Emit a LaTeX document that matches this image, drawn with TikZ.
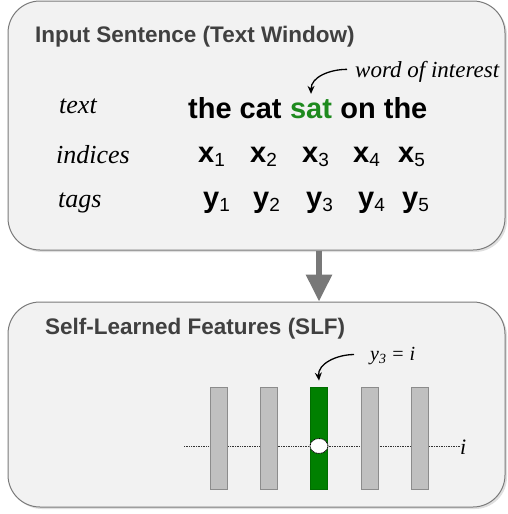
\documentclass[tikz,border=0pt]{standalone}
\usepackage{fontspec}
\setmainfont{Liberation Serif}
\setsansfont{Liberation Sans}
\usetikzlibrary{positioning,shapes.geometric,arrows.meta,shadows}
\definecolor{panelfill}{HTML}{F2F2F2}
\definecolor{paneldraw}{HTML}{7A7A7A}
\definecolor{headgray}{HTML}{404040}
\definecolor{wordgreen}{HTML}{1E8A1E}
\definecolor{bargreen}{HTML}{008000}
\definecolor{bargray}{HTML}{C0C0C0}
\newcommand{\vsub}[2]{{\bfseries #1}\raisebox{-4pt}{\fontsize{19}{19}\selectfont\mdseries #2}}
\tikzstyle{panel} = [draw=paneldraw,fill=panelfill,line width=1pt,rounded corners=32pt,
                     drop shadow={shadow xshift=2pt,shadow yshift=-2pt,opacity=0.25}]
\tikzstyle{head} = [anchor=base west,inner sep=0,text=headgray,
                    font=\fontsize{22.5}{22.5}\selectfont\sffamily\bfseries]
\tikzstyle{word} = [inner sep=0,font=\fontsize{29}{29}\selectfont\sffamily\bfseries]
\tikzstyle{note} = [anchor=base west,inner sep=0,font=\fontsize{23}{23}\selectfont\itshape]
\tikzstyle{bar} = [draw=black!45,fill=bargray,line width=0.8pt,minimum width=17pt,
                   minimum height=102pt,inner sep=0]

\begin{document}
\begin{tikzpicture}[
      x=1pt,y=-1pt,
      rowlab/.style={note,font=\fontsize{26}{26}\selectfont\itshape},
      curly/.style={-{Stealth[length=8pt,width=7pt]},line width=1.3pt},
      flow/.style={draw=black!53,line width=6pt,-{Triangle[width=25pt,length=27pt]}},
      guide/.style={densely dotted,line width=0.7pt,black!80},
      blob/.style={ellipse,draw=black,dash pattern=on 1pt off 0.7pt,fill=white,line width=0.9pt,
                   minimum width=18pt,minimum height=15pt,inner sep=0}]

     \useasboundingbox (0,0) rectangle (508,514);

     % input window
     \node[panel,minimum width=497pt,minimum height=249pt] (inbox) at (256.5,125.5) {};
     \node[head] (intitle) at (35,42.5) {Input Sentence (Text Window)};

     \node[rowlab] (ltext) at (59,113) {text};
     \node[rowlab] (lidx)  at (56,163) {indices};
     \node[rowlab] (ltag)  at (58,207) {tags};

     \node[word,anchor=base west] (pre) at (188,118) {the cat};
     \node[word,base right=8pt of pre,text=wordgreen] (sat) {sat};
     \node[word,base right=8pt of sat] (post) {on the};

     \node[note] (woi) at (355,77) {word of interest};
     \draw[curly] ([xshift=-8pt,yshift=2pt]woi.west) to[out=180,in=90] ([yshift=5pt]sat.north);

     \foreach \i/\x in {1/198,2/250,3/302,4/353,5/398}
       \node[word,anchor=base west] (x\i) at (\x,162) {\vsub{x}{\i}};
     \foreach \i/\x in {1/203,2/253,3/306,4/358,5/402}
       \node[word,anchor=base west] (y\i) at (\x,207) {\vsub{y}{\i}};

     % feature window
     \node[panel,minimum width=497pt,minimum height=205pt] (slfbox) at (256.5,404.5) {};
     \node[head] (slftitle) at (45,334) {Self-Learned Features (SLF)};

     \coordinate (g0) at (184,446);
     \node[note,font=\fontsize{22}{22}\selectfont\itshape] (ilab) at (460,454) {i};
     \draw[guide] (g0) -- (ilab.west |- g0);

     \foreach \i/\x in {1/218.5,2/268.5,4/369.5,5/419.5}
       \node[bar] (b\i) at (\x,438) {};
     \node[bar,fill=bargreen,draw=bargreen!85!black] (b3) at (319,438) {};
     \node[blob] (hit) at (b3 |- g0) {};

     \node[note,font=\fontsize{20}{20}\selectfont\itshape] (yeq) at (370,360)
          {y\raisebox{-3pt}{\fontsize{14}{14}\selectfont 3} = i};
     \draw[curly] ([xshift=-16pt,yshift=1pt]yeq.west) to[out=180,in=95] ([yshift=6pt]b3.north);

     \draw[flow] (inbox.south -| b3) -- (slfbox.north -| b3);

  \end{tikzpicture}
\end{document}
